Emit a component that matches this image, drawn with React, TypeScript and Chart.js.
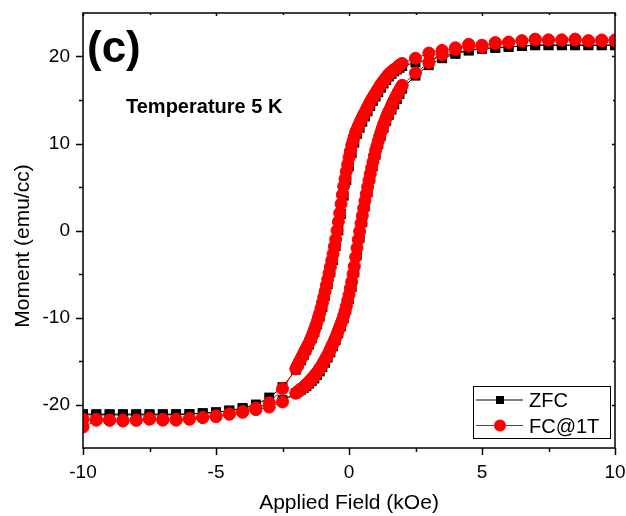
import React, { useEffect, useRef } from 'react';
import { Chart, registerables } from 'chart.js';

Chart.register(...registerables);

// ---------- axis ticks ----------
const xMajorTicks = [-10, -5, 0, 5, 10];
const xMinorTicks = [-7.5, -2.5, 2.5, 7.5];
const yMajorTicks = [-20, -10, 0, 10, 20];
const yMinorTicks = [-15, -5, 5, 15];

// ---------- field grids (kOe) ----------
const highFieldDown = [10, 9.5, 9, 8.5, 8, 7.5, 7, 6.5, 6, 5.5, 5, 4.5, 4, 3.5, 3, 2.5];
const lowFieldDown = [-2.5, -3, -3.5, -4, -4.5, -5, -5.5, -6, -6.5, -7, -7.5, -8, -8.5, -9, -9.5, -10];
const fcDenseFieldDown = [
  2, 1.95, 1.9, 1.85, 1.8, 1.75, 1.7, 1.65, 1.6, 1.55,
  1.5, 1.45, 1.4, 1.35, 1.3, 1.25, 1.2, 1.15, 1.1, 1.05,
  1, 0.95, 0.9, 0.85, 0.8, 0.75, 0.7, 0.65, 0.6, 0.55,
  0.5, 0.45, 0.4, 0.35, 0.3, 0.25, 0.2, 0.15, 0.1, 0.05,
  0, -0.05, -0.1, -0.15, -0.2, -0.25, -0.3, -0.35, -0.4, -0.45,
  -0.5, -0.55, -0.6, -0.65, -0.7, -0.75, -0.8, -0.85, -0.9, -0.95,
  -1, -1.05, -1.1, -1.15, -1.2, -1.25, -1.3, -1.35, -1.4, -1.45,
  -1.5, -1.55, -1.6, -1.65, -1.7, -1.75, -1.8, -1.85, -1.9, -1.95,
  -2,
];
const zfcDenseFieldDown = [
  2, 1.9, 1.8, 1.7, 1.6, 1.5, 1.4, 1.3, 1.2, 1.1,
  1, 0.9, 0.8, 0.7, 0.6, 0.5, 0.4, 0.3, 0.2, 0.1,
  0, -0.1, -0.2, -0.3, -0.4, -0.5, -0.6, -0.7, -0.8, -0.9,
  -1, -1.1, -1.2, -1.3, -1.4, -1.5, -1.6, -1.7, -1.8, -1.9,
  -2,
];

// ---------- FC@1T moments (emu/cc) ----------
const fcDescHigh = [21.8, 21.8, 21.8, 22.0, 21.9, 21.9, 22.0, 21.8, 21.65, 21.6, 21.1, 21.4, 21.0, 20.7, 20.4, 19.8];
const fcDescDense = [
  19.2, 19.1, 19.0, 18.85, 18.7, 18.6, 18.5, 18.4, 18.25, 18.1,
  18.0, 17.8, 17.6, 17.4, 17.2, 17.0, 16.8, 16.55, 16.3, 16.05,
  15.8, 15.55, 15.3, 15.05, 14.8, 14.5, 14.2, 13.9, 13.6, 13.3,
  13.0, 12.7, 12.35, 12.0, 11.65, 11.3, 10.8, 10.3, 9.8, 9.1,
  8.4, 7.6, 6.8, 5.95, 5.1, 4.1, 3.05, 2.0, 1.0, 0.0,
  -1.0, -1.85, -2.7, -3.45, -4.2, -4.9, -5.6, -6.3, -7.0, -7.65,
  -8.3, -8.9, -9.5, -10.0, -10.5, -10.95, -11.4, -11.8, -12.2, -12.55,
  -12.9, -13.2, -13.5, -13.8, -14.1, -14.4, -14.7, -15.0, -15.3, -15.6,
  -15.9,
];
const fcDescLow = [-18.2, -19.8, -20.4, -20.8, -21.1, -21.3, -21.5, -21.6, -21.7, -21.7, -21.6, -21.8, -21.8, -21.8, -21.7, -21.7];
const fcAscLow = [-22.6, -21.8, -21.8, -21.9, -21.8, -21.7, -21.8, -21.8, -21.7, -21.5, -21.4, -21.1, -20.9, -20.6, -20.3, -19.7];
const fcAscDense = [
  -18.7, -18.6, -18.45, -18.35, -18.2, -18.1, -17.95, -17.8, -17.7, -17.55,
  -17.4, -17.2, -17.05, -16.85, -16.7, -16.5, -16.3, -16.1, -15.85, -15.65,
  -15.4, -15.1, -14.85, -14.55, -14.3, -14.0, -13.65, -13.3, -13.0, -12.65,
  -12.3, -11.9, -11.5, -11.1, -10.7, -10.3, -9.8, -9.25, -8.7, -8.05,
  -7.4, -6.65, -5.9, -5.0, -4.1, -3.05, -2.0, -1.05, -0.1, 0.8,
  1.7, 2.55, 3.4, 4.2, 5.0, 5.75, 6.5, 7.2, 7.9, 8.55,
  9.2, 9.75, 10.3, 10.8, 11.3, 11.75, 12.2, 12.6, 13.0, 13.35,
  13.7, 14.0, 14.35, 14.7, 15.0, 15.3, 15.6, 15.9, 16.15, 16.45,
  16.7,
];
const fcAscHigh = [18.1, 19.3, 20.2, 20.8, 21.2, 21.3, 21.5, 21.6, 21.8, 21.9, 21.9, 21.9, 21.9, 21.8, 21.9, 21.9];

// ---------- ZFC moments (emu/cc) ----------
const zfcDescHigh = [21.3, 21.3, 21.3, 21.3, 21.3, 21.3, 21.3, 21.2, 21.1, 21.0, 20.9, 20.7, 20.4, 20.1, 19.6, 19.3];
const zfcDescDense = [
  18.9, 18.7, 18.5, 18.3, 18.0, 17.7, 17.3, 16.9, 16.4, 15.9,
  15.4, 14.9, 14.3, 13.7, 13.1, 12.5, 11.8, 11.1, 10.1, 8.9,
  7.4, 5.8, 4.0, 1.9, 0.0, -1.8, -3.4, -4.8, -6.2, -7.5,
  -8.8, -9.9, -10.8, -11.7, -12.4, -13.1, -13.7, -14.3, -14.9, -15.4,
  -16.0,
];
const zfcDescLow = [-18.0, -19.2, -20.0, -20.4, -20.7, -20.9, -21.0, -21.1, -21.1, -21.1, -21.1, -21.1, -21.1, -21.1, -21.1, -21.1];
const zfcAscLow = [-21.2, -21.2, -21.2, -21.2, -21.2, -21.2, -21.2, -21.2, -21.1, -21.0, -20.9, -20.7, -20.5, -20.3, -20.0, -19.5];
const zfcAscDense = [
  -18.7, -18.5, -18.3, -18.1, -17.9, -17.6, -17.3, -17.0, -16.6, -16.2,
  -15.7, -15.2, -14.6, -14.0, -13.3, -12.6, -11.8, -11.0, -10.1, -9.1,
  -7.9, -6.5, -4.8, -2.8, -0.8, 1.0, 2.8, 4.4, 6.0, 7.4,
  8.7, 9.9, 10.9, 11.8, 12.6, 13.3, 13.9, 14.5, 15.1, 15.7,
  16.3,
];
const zfcAscHigh = [17.8, 19.0, 19.8, 20.3, 20.7, 20.9, 21.0, 21.1, 21.2, 21.3, 21.3, 21.3, 21.3, 21.3, 21.3, 21.3];

const FONT = '"Liberation Sans", Arial, Helvetica, sans-serif';
const RED = '#ff0000';

function zip(fields: number[], values: number[]) {
  return fields.map((f, i) => ({ x: f, y: values[i] }));
}
function rev(a: number[]) {
  return [...a].reverse();
}

function buildLoop(
  descHigh: number[], descDense: number[], descLow: number[],
  ascLow: number[], ascDense: number[], ascHigh: number[], denseDown: number[]
) {
  return [
    ...zip(highFieldDown, descHigh),
    ...zip(denseDown, descDense),
    ...zip(lowFieldDown, descLow),
    ...zip(rev(lowFieldDown), ascLow),
    ...zip(rev(denseDown), ascDense),
    ...zip(rev(highFieldDown), ascHigh),
  ];
}

const decorPlugin = {
  id: 'decor',
  afterDatasetsDraw(chart: any) {
    const { ctx, chartArea: a, scales } = chart;
    const xs = scales.x;
    const ys = scales.y;
    ctx.save();
    ctx.strokeStyle = '#000';
    ctx.fillStyle = '#000';

    // frame
    ctx.lineWidth = 1.5;
    ctx.strokeRect(a.left, a.top, a.right - a.left, a.bottom - a.top);

    // ticks
    ctx.lineWidth = 1.5;
    ctx.beginPath();
    for (const v of xMajorTicks) {
      const px = Math.round(xs.getPixelForValue(v)) + 0.5;
      ctx.moveTo(px, a.bottom); ctx.lineTo(px, a.bottom + 7);
      ctx.moveTo(px, a.top); ctx.lineTo(px, a.top + 3);
    }
    for (const v of xMinorTicks) {
      const px = Math.round(xs.getPixelForValue(v)) + 0.5;
      ctx.moveTo(px, a.bottom); ctx.lineTo(px, a.bottom + 4);
      ctx.moveTo(px, a.top); ctx.lineTo(px, a.top + 2);
    }
    for (const v of yMajorTicks) {
      const py = Math.round(ys.getPixelForValue(v)) + 0.5;
      ctx.moveTo(a.left, py); ctx.lineTo(a.left - 7, py);
      ctx.moveTo(a.right, py); ctx.lineTo(a.right - 3, py);
    }
    for (const v of yMinorTicks) {
      const py = Math.round(ys.getPixelForValue(v)) + 0.5;
      ctx.moveTo(a.left, py); ctx.lineTo(a.left - 4, py);
      ctx.moveTo(a.right, py); ctx.lineTo(a.right - 2, py);
    }
    ctx.stroke();

    // axis titles
    ctx.font = `21px ${FONT}`;
    ctx.textAlign = 'center';
    ctx.textBaseline = 'alphabetic';
    ctx.fillText('Applied Field (kOe)', (a.left + a.right) / 2, 509);
    ctx.save();
    ctx.translate(29, 246);
    ctx.rotate(-Math.PI / 2);
    ctx.fillText('Moment (emu/cc)', 0, 0);
    ctx.restore();

    // panel label and annotation
    ctx.textAlign = 'left';
    ctx.font = `bold 44px ${FONT}`;
    ctx.fillText('(c)', 87, 62);
    ctx.font = `bold 20px ${FONT}`;
    ctx.fillText('Temperature 5 K', 126, 113);

    // legend
    const lx = 473, ly = 386, lw = 137, lh = 52;
    ctx.fillStyle = '#fff';
    ctx.fillRect(lx, ly, lw, lh);
    ctx.lineWidth = 1;
    ctx.strokeStyle = '#000';
    ctx.strokeRect(lx + 0.5, ly + 0.5, lw, lh);

    const rows = [
      { label: 'ZFC', color: '#000', style: 'rect', cy: 400, base: 407 },
      { label: 'FC@1T', color: RED, style: 'circle', cy: 425.5, base: 433 },
    ];
    for (const r of rows) {
      ctx.strokeStyle = r.color;
      ctx.fillStyle = r.color;
      ctx.lineWidth = 1;
      ctx.beginPath();
      ctx.moveTo(476, r.cy);
      ctx.lineTo(523, r.cy);
      ctx.stroke();
      if (r.style === 'rect') {
        ctx.fillRect(496, r.cy - 4, 8, 8);
      } else {
        ctx.beginPath();
        ctx.arc(500, r.cy, 6, 0, Math.PI * 2);
        ctx.fill();
      }
      ctx.fillStyle = '#000';
      ctx.font = `20px ${FONT}`;
      ctx.fillText(r.label, 529, r.base);
    }
    ctx.restore();
  },
};

function zeroPadding(s: any) {
  s.paddingLeft = 0;
  s.paddingRight = 0;
  s.paddingTop = 0;
  s.paddingBottom = 0;
}

export default function App() {
  const canvasRef = useRef<HTMLCanvasElement | null>(null);

  useEffect(() => {
    document.body.style.margin = '0';
    const canvas = canvasRef.current;
    if (!canvas) return;

    const fcData = buildLoop(fcDescHigh, fcDescDense, fcDescLow, fcAscLow, fcAscDense, fcAscHigh, fcDenseFieldDown);
    const zfcData = buildLoop(zfcDescHigh, zfcDescDense, zfcDescLow, zfcAscLow, zfcAscDense, zfcAscHigh, zfcDenseFieldDown);

    const tickFont = { family: FONT, size: 19 };

    const chart = new Chart(canvas, {
      type: 'scatter',
      data: {
        datasets: [
          {
            label: 'FC@1T',
            data: fcData,
            showLine: true,
            borderColor: RED,
            backgroundColor: RED,
            borderWidth: 1,
            pointStyle: 'circle',
            pointRadius: 6,
            pointBorderWidth: 1,
            pointBorderColor: RED,
            pointBackgroundColor: RED,
            tension: 0,
            order: 0,
            clip: 0,
          } as any,
          {
            label: 'ZFC',
            data: zfcData,
            showLine: true,
            borderColor: '#000',
            backgroundColor: '#000',
            borderWidth: 1,
            pointStyle: 'rect',
            pointRadius: 7,
            pointBorderWidth: 0,
            pointBackgroundColor: '#000',
            tension: 0,
            order: 1,
            clip: 0,
          } as any,
        ],
      },
      options: {
        responsive: false,
        animation: false,
        devicePixelRatio: 1,
        layout: { padding: { left: 0, right: 11, top: 13, bottom: 0 } },
        plugins: {
          legend: { display: false },
          tooltip: { enabled: false },
        },
        events: [],
        scales: {
          x: {
            type: 'linear',
            min: -10,
            max: 10,
            afterBuildTicks: (s: any) => {
              s.ticks = xMajorTicks.map((v) => ({ value: v }));
            },
            afterFit: (s: any) => {
              s.height = 68;
              zeroPadding(s);
            },
            grid: { display: false, drawTicks: false },
            border: { display: false },
            ticks: { color: '#000', font: tickFont, padding: 13, maxRotation: 0, autoSkip: false },
          },
          y: {
            type: 'linear',
            min: -25,
            max: 25,
            afterBuildTicks: (s: any) => {
              s.ticks = yMajorTicks.map((v) => ({ value: v }));
            },
            afterFit: (s: any) => {
              s.width = 83;
              zeroPadding(s);
            },
            grid: { display: false, drawTicks: false },
            border: { display: false },
            ticks: { color: '#000', font: tickFont, padding: 13, autoSkip: false },
          },
        },
      } as any,
      plugins: [decorPlugin],
    });

    return () => chart.destroy();
  }, []);

  return (
    <div style={{ width: 626, height: 516, background: '#fff' }}>
      <canvas ref={canvasRef} width={626} height={516} style={{ display: 'block' }} />
    </div>
  );
}
